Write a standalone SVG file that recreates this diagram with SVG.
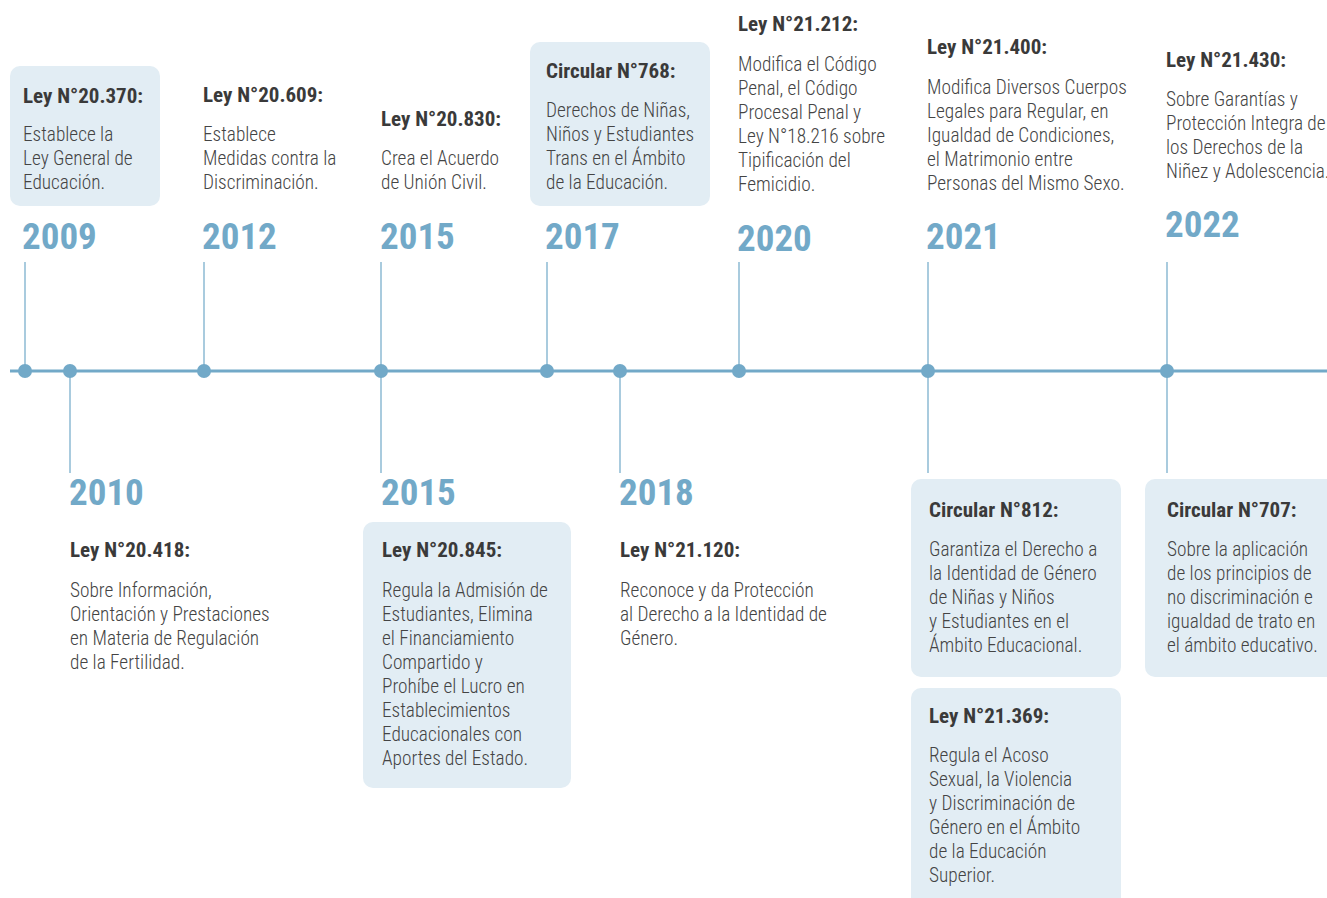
<svg xmlns="http://www.w3.org/2000/svg" width="1327" height="898" viewBox="0 0 1327 898">
  <style>
    .box { fill: #e2edf4; }
    .axis { stroke: #72a9c8; stroke-width: 3; }
    .stem { stroke: #8dbad3; stroke-width: 1.5; }
    .dot { fill: #72a9c8; }
    .year { font-family: "Roboto Condensed", "Liberation Sans Narrow", "Liberation Sans", sans-serif; font-weight: bold; font-size: 37px; fill: #72a9c8; }
    .title { font-family: "Roboto Condensed", "Liberation Sans Narrow", "Liberation Sans", sans-serif; font-weight: bold; font-size: 21px; fill: #3a3a3a; }
    .body { font-family: "Roboto Condensed", "Liberation Sans Narrow", "Liberation Sans", sans-serif; font-weight: 300; font-size: 19.3px; fill: #444444; }
  </style>

  <!-- timeline axis, stems and dots -->
  <g id="connectors">
    <line class="axis" x1="10" y1="371" x2="1327" y2="371"/>
    <line class="stem" x1="25" y1="262" x2="25" y2="371"/>
    <line class="stem" x1="204" y1="262" x2="204" y2="371"/>
    <line class="stem" x1="381" y1="262" x2="381" y2="371"/>
    <line class="stem" x1="547" y1="262" x2="547" y2="371"/>
    <line class="stem" x1="739" y1="262" x2="739" y2="371"/>
    <line class="stem" x1="928" y1="262" x2="928" y2="371"/>
    <line class="stem" x1="1167" y1="262" x2="1167" y2="371"/>
    <line class="stem" x1="70" y1="371" x2="70" y2="473"/>
    <line class="stem" x1="381" y1="371" x2="381" y2="473"/>
    <line class="stem" x1="620" y1="371" x2="620" y2="473"/>
    <line class="stem" x1="928" y1="371" x2="928" y2="473"/>
    <line class="stem" x1="1167" y1="371" x2="1167" y2="473"/>
    <circle class="dot" cx="25" cy="371" r="7"/>
    <circle class="dot" cx="70" cy="371" r="7"/>
    <circle class="dot" cx="204" cy="371" r="7"/>
    <circle class="dot" cx="381" cy="371" r="7"/>
    <circle class="dot" cx="547" cy="371" r="7"/>
    <circle class="dot" cx="620" cy="371" r="7"/>
    <circle class="dot" cx="739" cy="371" r="7"/>
    <circle class="dot" cx="928" cy="371" r="7"/>
    <circle class="dot" cx="1167" cy="371" r="7"/>
  </g>

  <!-- upper events -->
  <g id="n2009">
    <rect class="box" x="10" y="66" width="150" height="140" rx="10"/>
    <text class="title" x="23" y="103">Ley N°20.370:</text>
    <text class="body" x="23" y="141">Establece la</text>
    <text class="body" x="23" y="165">Ley General de</text>
    <text class="body" x="23" y="189">Educación.</text>
    <text class="year" x="22" y="249">2009</text>
  </g>
  <g id="n2012">
    <text class="title" x="203" y="102">Ley N°20.609:</text>
    <text class="body" x="203" y="141">Establece</text>
    <text class="body" x="203" y="165">Medidas contra la</text>
    <text class="body" x="203" y="189">Discriminación.</text>
    <text class="year" x="202" y="249">2012</text>
  </g>
  <g id="n2015a">
    <text class="title" x="381" y="126">Ley N°20.830:</text>
    <text class="body" x="381" y="165">Crea el Acuerdo</text>
    <text class="body" x="381" y="189">de Unión Civil.</text>
    <text class="year" x="380" y="249">2015</text>
  </g>
  <g id="n2017">
    <rect class="box" x="530" y="42" width="180" height="164" rx="10"/>
    <text class="title" x="546" y="78">Circular N°768:</text>
    <text class="body" x="546" y="117">Derechos de Niñas,</text>
    <text class="body" x="546" y="141">Niños y Estudiantes</text>
    <text class="body" x="546" y="165">Trans en el Ámbito</text>
    <text class="body" x="546" y="189">de la Educación.</text>
    <text class="year" x="545" y="249">2017</text>
  </g>
  <g id="n2020">
    <text class="title" x="738" y="31">Ley N°21.212:</text>
    <text class="body" x="738" y="71">Modifica el Código</text>
    <text class="body" x="738" y="95">Penal, el Código</text>
    <text class="body" x="738" y="119">Procesal Penal y</text>
    <text class="body" x="738" y="143">Ley N°18.216 sobre</text>
    <text class="body" x="738" y="167">Tipificación del</text>
    <text class="body" x="738" y="191">Femicidio.</text>
    <text class="year" x="737" y="251">2020</text>
  </g>
  <g id="n2021a">
    <text class="title" x="927" y="54">Ley N°21.400:</text>
    <text class="body" x="927" y="94">Modifica Diversos Cuerpos</text>
    <text class="body" x="927" y="118">Legales para Regular, en</text>
    <text class="body" x="927" y="142">Igualdad de Condiciones,</text>
    <text class="body" x="927" y="166">el Matrimonio entre</text>
    <text class="body" x="927" y="190">Personas del Mismo Sexo.</text>
    <text class="year" x="926" y="249">2021</text>
  </g>
  <g id="n2022a">
    <text class="title" x="1166" y="67">Ley N°21.430:</text>
    <text class="body" x="1166" y="106">Sobre Garantías y</text>
    <text class="body" x="1166" y="130">Protección Integra de</text>
    <text class="body" x="1166" y="154">los Derechos de la</text>
    <text class="body" x="1166" y="178">Niñez y Adolescencia.</text>
    <text class="year" x="1165" y="237">2022</text>
  </g>

  <!-- lower events -->
  <g id="n2010">
    <text class="year" x="69" y="505">2010</text>
    <text class="title" x="70" y="557">Ley N°20.418:</text>
    <text class="body" x="70" y="597">Sobre Información,</text>
    <text class="body" x="70" y="621">Orientación y Prestaciones</text>
    <text class="body" x="70" y="645">en Materia de Regulación</text>
    <text class="body" x="70" y="669">de la Fertilidad.</text>
  </g>
  <g id="n2015b">
    <text class="year" x="381" y="505">2015</text>
    <rect class="box" x="363" y="522" width="208" height="266" rx="10"/>
    <text class="title" x="382" y="557">Ley N°20.845:</text>
    <text class="body" x="382" y="597">Regula la Admisión de</text>
    <text class="body" x="382" y="621">Estudiantes, Elimina</text>
    <text class="body" x="382" y="645">el Financiamiento</text>
    <text class="body" x="382" y="669">Compartido y</text>
    <text class="body" x="382" y="693">Prohíbe el Lucro en</text>
    <text class="body" x="382" y="717">Establecimientos</text>
    <text class="body" x="382" y="741">Educacionales con</text>
    <text class="body" x="382" y="765">Aportes del Estado.</text>
  </g>
  <g id="n2018">
    <text class="year" x="619" y="505">2018</text>
    <text class="title" x="620" y="557">Ley N°21.120:</text>
    <text class="body" x="620" y="597">Reconoce y da Protección</text>
    <text class="body" x="620" y="621">al Derecho a la Identidad de</text>
    <text class="body" x="620" y="645">Género.</text>
  </g>
  <g id="n2021b">
    <rect class="box" x="911" y="479" width="210" height="198" rx="10"/>
    <text class="title" x="929" y="517">Circular N°812:</text>
    <text class="body" x="929" y="556">Garantiza el Derecho a</text>
    <text class="body" x="929" y="580">la Identidad de Género</text>
    <text class="body" x="929" y="604">de Niñas y Niños</text>
    <text class="body" x="929" y="628">y Estudiantes en el</text>
    <text class="body" x="929" y="652">Ámbito Educacional.</text>
  </g>
  <g id="n2021c">
    <rect class="box" x="911" y="688" width="210" height="230" rx="10"/>
    <text class="title" x="929" y="723">Ley N°21.369:</text>
    <text class="body" x="929" y="762">Regula el Acoso</text>
    <text class="body" x="929" y="786">Sexual, la Violencia</text>
    <text class="body" x="929" y="810">y Discriminación de</text>
    <text class="body" x="929" y="834">Género en el Ámbito</text>
    <text class="body" x="929" y="858">de la Educación</text>
    <text class="body" x="929" y="882">Superior.</text>
  </g>
  <g id="n2022b">
    <rect class="box" x="1145" y="479" width="200" height="198" rx="10"/>
    <text class="title" x="1167" y="517">Circular N°707:</text>
    <text class="body" x="1167" y="556">Sobre la aplicación</text>
    <text class="body" x="1167" y="580">de los principios de</text>
    <text class="body" x="1167" y="604">no discriminación e</text>
    <text class="body" x="1167" y="628">igualdad de trato en</text>
    <text class="body" x="1167" y="652">el ámbito educativo.</text>
  </g>
</svg>
